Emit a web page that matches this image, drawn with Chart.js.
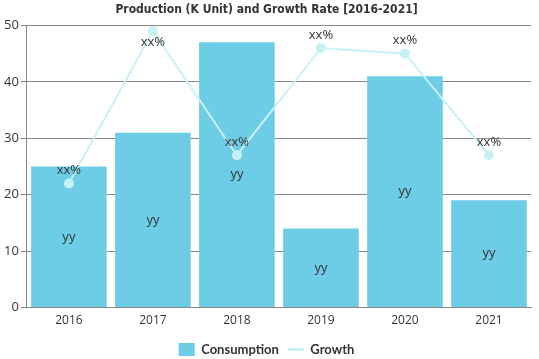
<!DOCTYPE html>
<html><head><meta charset="utf-8">
<script src="https://cdn.jsdelivr.net/npm/chart.js@4/dist/chart.umd.min.js"></script>
<style>html,body{margin:0;padding:0;background:#fff}#wrap{width:539px;height:359px}</style>
</head><body><div id="wrap"><canvas id="c" width="539" height="359"></canvas></div>
<script>
const categories = ["2016","2017","2018","2019","2020","2021"];
const consumption = [25, 31, 47, 14, 41, 19];
const growth = [22, 49, 27, 46, 45, 27];
const barLabels = ["yy","yy","yy","yy","yy","yy"];
const lineLabels = ["xx%","xx%","xx%","xx%","xx%","xx%"];
const yTicks = [0,10,20,30,40,50];

const labelPlugin = {
  id: 'labelPlugin',
  afterDatasetsDraw(chart) {
    const ctx = chart.ctx;
    ctx.save();
    ctx.font = '13px "Open Sans", sans-serif';
    ctx.fillStyle = '#333';
    ctx.textAlign = 'center';
    ctx.textBaseline = 'middle';
    const bars = chart.getDatasetMeta(0).data;
    bars.forEach((b, i) => {
      ctx.fillText(barLabels[i], b.x, (b.y + b.base) / 2);
    });
    const pts = chart.getDatasetMeta(1).data;
    pts.forEach((p, i) => {
      let y = p.y - 13;
      if (y < chart.chartArea.top + 6) y = p.y + 11;
      ctx.fillText(lineLabels[i], p.x, y);
    });
    ctx.restore();
  }
};

new Chart(document.getElementById('c'), {
  data: {
    labels: categories,
    datasets: [
      { type: 'bar', label: 'Consumption', data: consumption, backgroundColor: '#6ecde6',
        categoryPercentage: 1, barPercentage: 0.9, order: 2, pointStyle: 'rect' },
      { type: 'line', label: 'Growth', data: growth, borderColor: '#c8f1f6', backgroundColor: '#c8f1f6',
        borderWidth: 2, pointRadius: 4, pointBackgroundColor: '#c8f1f6', pointBorderColor: '#c8f1f6',
        tension: 0, order: 1, pointStyle: 'circle' }
    ]
  },
  options: {
    responsive: false, animation: false,
    layout: { padding: { left: 2, right: 8, top: 0, bottom: -7 } },
    plugins: {
      title: { display: true, text: 'Production (K Unit) and Growth Rate [2016-2021]',
        font: { family: '"DejaVu Sans Condensed", "DejaVu Sans"', size: 12, weight: 'bold' }, color: '#333',
        padding: { top: 3, bottom: 8 } },
      legend: { position: 'bottom',
        labels: {
          font: { family: 'Lato', size: 13, weight: 'bold' }, color: '#333', padding: 9,
          boxWidth: 14, boxHeight: 14,
          sort: (a, b) => a.datasetIndex - b.datasetIndex,
          generateLabels: (chart) => {
            const items = Chart.defaults.plugins.legend.labels.generateLabels(chart);
            items.forEach(it => {
              if (it.datasetIndex === 1) { it.pointStyle = 'line'; it.lineWidth = 3; it.strokeStyle = '#c8f1f6'; }
              else { it.pointStyle = 'rect'; it.lineWidth = 0; }
            });
            return items;
          },
          usePointStyle: true, pointStyleWidth: 16
        } },
      tooltip: { enabled: false }
    },
    scales: {
      x: { grid: { display: false, drawTicks: false }, border: { color: '#888' },
        ticks: { color: '#333', font: { family: '"Open Sans"', size: 12 }, padding: 6 } },
      y: { min: 0, max: 50, afterBuildTicks: (ax) => { ax.ticks = yTicks.map(v => ({ value: v })); },
        grid: { color: '#888', tickLength: 6 }, border: { color: '#888' },
        ticks: { color: '#333', font: { family: '"Open Sans"', size: 13 }, padding: 2 } }
    }
  },
  plugins: [labelPlugin]
});
</script></body></html>
